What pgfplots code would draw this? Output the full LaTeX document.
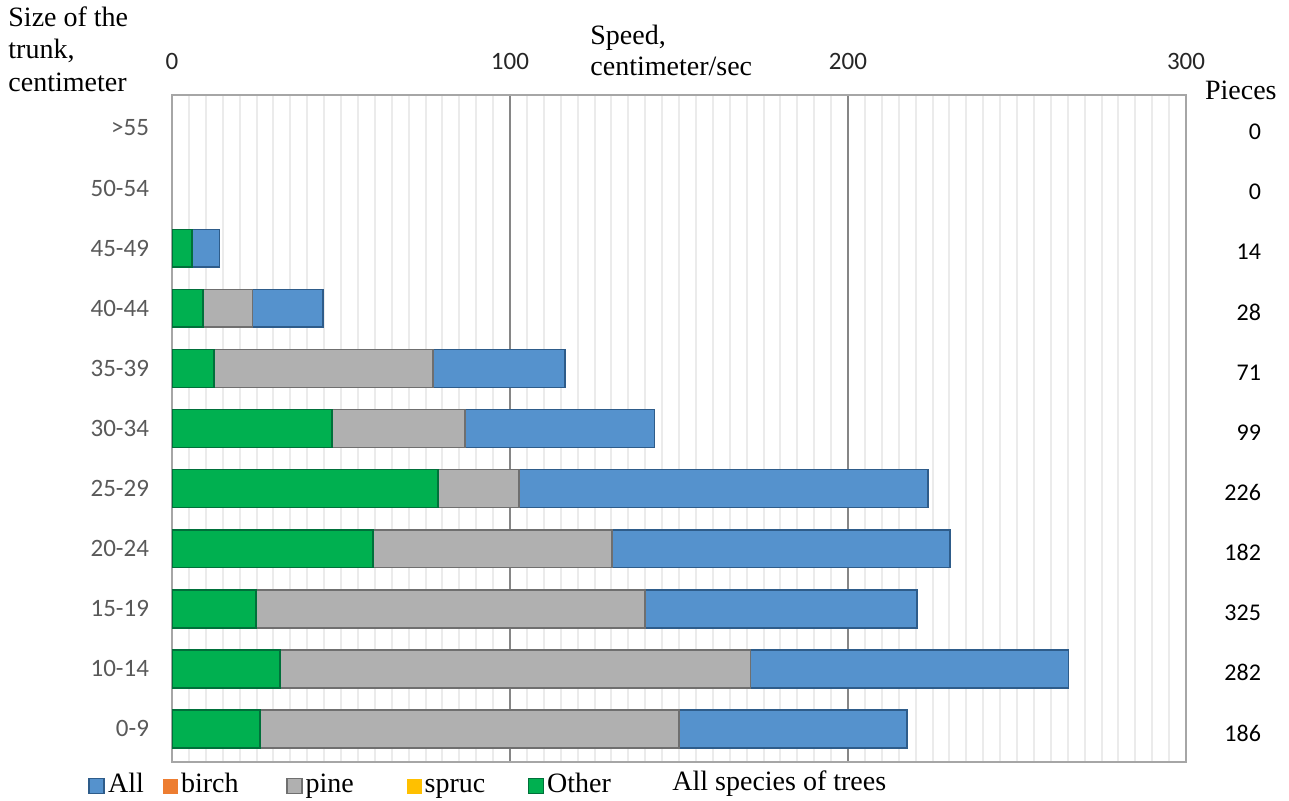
\documentclass[border=0pt]{standalone}
\usepackage{pgfplots}
\pgfplotsset{compat=1.18}
\usepackage{pgfplotstable}
\usepackage{fontspec}
\setmainfont{Liberation Serif}
\newfontfamily\calibri{Carlito}

\definecolor{cAll}{HTML}{5592CD}
\definecolor{cAllD}{HTML}{2E5C8A}
\definecolor{cPine}{HTML}{B0B0B0}
\definecolor{cPineD}{HTML}{6F6F6F}
\definecolor{cOther}{HTML}{00B050}
\definecolor{cOtherD}{HTML}{00703A}
\definecolor{cBirch}{HTML}{ED7D31}
\definecolor{cSpruc}{HTML}{FFC000}
\definecolor{labgray}{HTML}{595959}
\definecolor{tickblack}{HTML}{262626}
\definecolor{gridmaj}{HTML}{868686}
\definecolor{gridmin}{HTML}{EBEBEB}
\definecolor{frame}{HTML}{A6A6A6}

% speed by trunk size (0 = 0-9 ... 8 = 45-49)
\pgfplotstableread{
y Other spruc pine  birch All
0 26.0  0     124.0 0     67.5
1 32.0  0     139.1 0     94.1
2 24.9  0     115.1 0     80.5
3 59.5  0     70.7  0     100.0
4 78.7  0     24.0  0     121.0
5 47.3  0     39.3  0     56.2
6 12.4  0     64.8  0     39.1
7 9.1   0     14.7  0     20.8
8 6.0   0     0     0     8.0
}\speed

\begin{document}
\begin{tikzpicture}
\useasboundingbox (0,0) rectangle (644.5pt,400pt);
\begin{axis}[
    at={(86pt,19pt)}, anchor=south west,
    scale only axis, width=507pt, height=333.5pt,
    xbar stacked, bar width=0.63,
    xmin=0, xmax=300, ymin=-0.55, ymax=10.55,
    xtick={0,100,200,300}, minor x tick num=19,
    xticklabel pos=upper,
    xmajorgrids, xminorgrids,
    major grid style={draw=gridmaj, line width=0.6pt},
    minor grid style={draw=gridmin, line width=1pt},
    major tick length=0pt, minor tick length=0pt,
    axis line style={draw=frame, line width=1pt},
    /pgf/number format/assume math mode=true,
    xticklabel style={font=\calibri\fontsize{12.5}{14}\selectfont, text=tickblack, yshift=9pt},
    ytick={0,...,10},
    yticklabels={0-9,10-14,15-19,20-24,25-29,30-34,35-39,40-44,45-49,50-54,>55},
    yticklabel style={font=\calibri\fontsize{12.5}{14}\selectfont, text=labgray, xshift=-8pt},
    reverse legend,
    legend columns=5,
    legend style={at={(-0.0828,-0.036)}, anchor=west, draw=none, fill=none,
        inner sep=0pt, font=\fontsize{14}{16}\selectfont,
        nodes={inner sep=1.5pt, text height=9.5pt, text depth=3pt},
        /tikz/every even column/.append style={column sep=0pt}},
    legend image code/.code={\path[#1] (0pt,-3.75pt) rectangle (7.5pt,3.75pt);},
]
\addplot[fill=cOther, draw=cOtherD, line width=0.8pt] table[x=Other, y=y]{\speed};
\addplot[fill=cSpruc, draw=none] table[x=spruc, y=y]{\speed};
\addplot[fill=cPine, draw=cPineD, line width=0.8pt] table[x=pine, y=y]{\speed};
\addplot[fill=cBirch, draw=none] table[x=birch, y=y]{\speed};
\addplot[fill=cAll, draw=cAllD, line width=0.8pt] table[x=All, y=y]{\speed};
\legend{\makebox[47pt][l]{Other},\makebox[50pt][l]{spruc},\makebox[49pt][l]{pine},\makebox[51pt][l]{birch},\makebox[26pt][l]{All}}
\end{axis}

% number of pieces, right side
\begin{axis}[
    at={(86pt,19pt)}, anchor=south west,
    scale only axis, width=507pt, height=333.5pt,
    xmin=0, xmax=300, ymin=-0.55, ymax=10.55,
    hide x axis, axis y line*=right,
    y axis line style={draw=none},
    major tick length=0pt,
    ytick={0,...,10},
    yticklabels={186,282,325,182,226,99,71,28,14,0,0},
    yticklabel style={font=\calibri\fontsize{12}{14}\selectfont, text=black, anchor=east, xshift=41pt, yshift=-2pt},
]
\end{axis}

\begin{scope}[font=\fontsize{14}{16}\selectfont]
\node[anchor=base west, inner sep=0pt] at (4pt,386.5pt) {Size of the};
\node[anchor=base west, inner sep=0pt] at (4pt,370.5pt) {trunk,};
\node[anchor=base west, inner sep=0pt] at (4pt,354.5pt) {centimeter};
\node[anchor=base west, inner sep=0pt] at (295pt,377.5pt) {Speed,};
\node[anchor=base west, inner sep=0pt] at (295pt,362.5pt) {centimeter/sec};
\node[anchor=base east, inner sep=0pt] at (638.5pt,350pt) {Pieces};
\node[anchor=base west, inner sep=0pt] at (336pt,5pt) {All species of trees};
\end{scope}
\end{tikzpicture}
\end{document}
